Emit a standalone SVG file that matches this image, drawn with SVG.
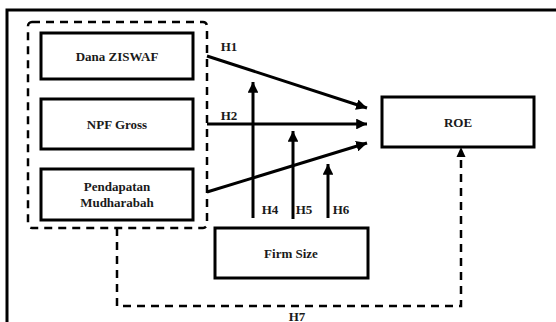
<svg xmlns="http://www.w3.org/2000/svg" width="556" height="322" viewBox="0 0 556 322">
<style>
.box{fill:#fff;stroke:#000;stroke-width:3}
.t{font-family:"Liberation Serif","Times New Roman",serif;font-weight:bold;font-size:13px;fill:#1a1a1a;text-anchor:middle}
.ln{stroke:#000;stroke-width:3;fill:none}
.dash{stroke:#000;stroke-width:2.5;fill:none;stroke-dasharray:8 6}
</style>
<defs>
<marker id="ah" viewBox="0 0 10 10" refX="10" refY="5" markerWidth="3.6" markerHeight="3.6" markerUnits="strokeWidth" orient="auto">
<path d="M0,0 L10,5 L0,10 z" fill="#000"/>
</marker>
</defs>
<rect width="556" height="322" fill="#fff"/>
<g id="frame">
<path d="M7,322 L7,10 L556,10" class="ln"/>
</g>
<g id="group">
<rect x="28" y="22" width="179" height="206" rx="4" class="dash"/>
</g>
<g id="dana">
<rect x="41" y="33" width="152" height="46" class="box"/>
<text x="117" y="61" class="t">Dana ZISWAF</text>
</g>
<g id="npf">
<rect x="41" y="99" width="152" height="50" class="box"/>
<text x="117" y="129" class="t">NPF Gross</text>
</g>
<g id="pendapatan">
<rect x="41" y="169" width="152" height="51" class="box"/>
<text x="117" y="191" class="t">Pendapatan</text>
<text x="117" y="207" class="t">Mudharabah</text>
</g>
<g id="roe">
<rect x="382" y="97" width="152" height="50" class="box"/>
<text x="458" y="127" class="t">ROE</text>
</g>
<g id="firmsize">
<rect x="215" y="228" width="153" height="50" class="box"/>
<text x="291" y="258" class="t">Firm Size</text>
</g>
<g id="connectors">
<line x1="207" y1="56" x2="367" y2="108" class="ln" marker-end="url(#ah)"/>
<line x1="207" y1="124" x2="367" y2="124" class="ln" marker-end="url(#ah)"/>
<line x1="207" y1="192" x2="367" y2="143" class="ln" marker-end="url(#ah)"/>
<line x1="253" y1="218" x2="253" y2="82" class="ln" marker-end="url(#ah)"/>
<line x1="293" y1="219" x2="293" y2="131" class="ln" marker-end="url(#ah)"/>
<line x1="328" y1="218" x2="328" y2="164" class="ln" marker-end="url(#ah)"/>
<path d="M117,228 L117,306 L461,306 L461,156" class="dash"/>
<path d="M456.5,157 L461,147 L465.5,157 z" fill="#000"/>
<text x="229" y="51" class="t">H1</text>
<text x="229" y="120" class="t">H2</text>
<text x="270" y="214" class="t">H4</text>
<text x="304" y="214" class="t">H5</text>
<text x="341" y="214" class="t">H6</text>
<text x="297" y="321" class="t">H7</text>
</g>
</svg>
